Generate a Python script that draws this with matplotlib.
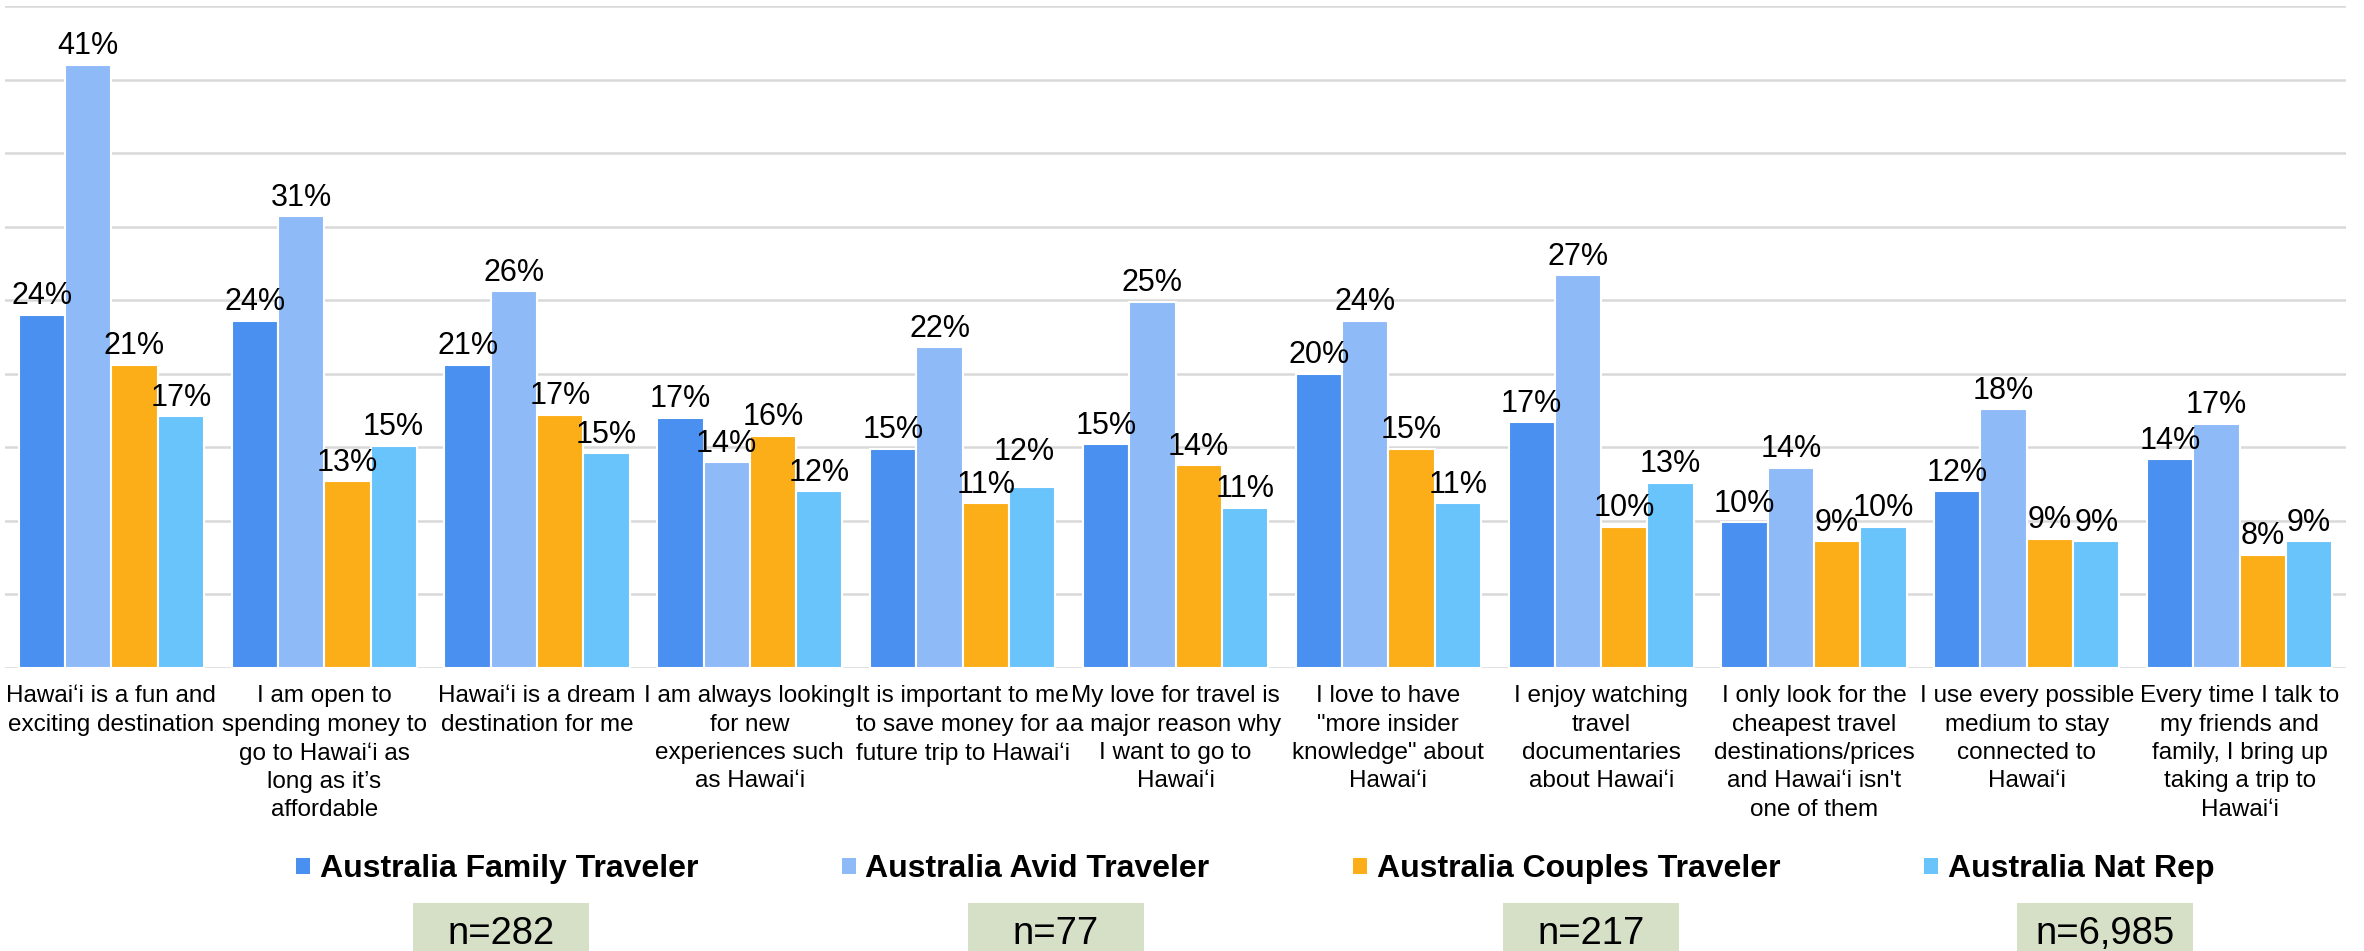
import matplotlib.pyplot as plt
from matplotlib.patches import Patch, Rectangle
import numpy as np

plt.rcParams['font.family'] = ['Liberation Sans', 'DejaVu Sans']

categories = [
    "Hawai\u02bbi is a fun and\nexciting destination",
    "I am open to\nspending money to\ngo to Hawai\u02bbi as\nlong as it\u2019s\naffordable",
    "Hawai\u02bbi is a dream\ndestination for me",
    "I am always looking\nfor new\nexperiences such\nas Hawai\u02bbi",
    "It is important to me\nto save money for a\nfuture trip to Hawai\u02bbi",
    "My love for travel is\na major reason why\nI want to go to\nHawai\u02bbi",
    "I love to have\n\"more insider\nknowledge\" about\nHawai\u02bbi",
    "I enjoy watching\ntravel\ndocumentaries\nabout Hawai\u02bbi",
    "I only look for the\ncheapest travel\ndestinations/prices\nand Hawai\u02bbi isn't\none of them",
    "I use every possible\nmedium to stay\nconnected to\nHawai\u02bbi",
    "Every time I talk to\nmy friends and\nfamily, I bring up\ntaking a trip to\nHawai\u02bbi",
]

series_names = ["Australia Family Traveler", "Australia Avid Traveler",
                "Australia Couples Traveler", "Australia Nat Rep"]
sample_sizes = ["n=282", "n=77", "n=217", "n=6,985"]

family = [24.0, 23.6, 20.6, 17.0, 14.9, 15.2, 20.0, 16.7, 9.9, 12.0, 14.2]
avid = [41.0, 30.7, 25.6, 14.0, 21.8, 24.9, 23.6, 26.7, 13.6, 17.6, 16.6]
couples = [20.6, 12.7, 17.2, 15.8, 11.2, 13.8, 14.9, 9.6, 8.6, 8.8, 7.7]
natrep = [17.1, 15.1, 14.6, 12.0, 12.3, 10.9, 11.2, 12.6, 9.6, 8.6, 8.6]

colors = ['#4a90f0', '#8fbaf8', '#fbae17', '#6ac4fc']

# labels that were nudged in the original to avoid a collision: (series, category) -> (dx, dy) pts
nudges = {(3, 4): (-6, 12)}

fig = plt.figure(figsize=(23.64, 9.51), dpi=100)
ax = fig.add_axes([5 / 2364, 1 - 668 / 951, 2341 / 2364, 662 / 951])

x = np.arange(len(categories))
w = 0.2175
for i, (vals, c) in enumerate(zip([family, avid, couples, natrep], colors)):
    pos = x + (i - 1.5) * w
    ax.bar(pos, vals, w, color=c, edgecolor='white', linewidth=1.5, zorder=3)
    for j, (xp, v) in enumerate(zip(pos, vals)):
        dx, dy = nudges.get((i, j), (0, 0))
        ax.annotate(f"{v:.0f}%", (xp, v), xytext=(dx, 2.5 + dy), textcoords='offset points',
                    ha='center', va='bottom', fontsize=22, color='black', zorder=4)

ax.set_xlim(-0.5, len(categories) - 0.5)
ax.set_ylim(0, 45)
ax.set_yticks(np.arange(0, 46, 5))
ax.yaxis.grid(True, color='#d9d9d9', linewidth=1.8, zorder=0)
ax.set_axisbelow(True)
ax.tick_params(left=False, labelleft=False, bottom=False)
for s in ['top', 'right', 'left', 'bottom']:
    ax.spines[s].set_visible(False)
ax.set_xticks(x)
ax.set_xticklabels(categories, fontsize=17.5, linespacing=1.37, va='top')
ax.tick_params(axis='x', pad=9)

handles = [Patch(facecolor=c, edgecolor='none') for c in colors]
fig.legend(handles, series_names, loc='center left', ncol=4,
           bbox_to_anchor=(296 / 2364, 1 - 869 / 951), frameon=False,
           prop={'weight': 'bold', 'size': 23}, borderpad=0, borderaxespad=0,
           handlelength=0.44, handleheight=0.4, handletextpad=0.3,
           columnspacing=4.5)

box_lefts = [413, 968, 1503, 2017]
for bx, label in zip(box_lefts, sample_sizes):
    fig.patches.append(Rectangle((bx / 2364, 0), 176 / 2364, 48 / 951,
                                 transform=fig.transFigure, facecolor='#d5e0c7',
                                 edgecolor='none'))
    fig.text((bx + 88) / 2364, 1 - 934 / 951, label, ha='center', va='center',
             fontsize=27.5, color='black')

fig.savefig('out.png', dpi=100)
